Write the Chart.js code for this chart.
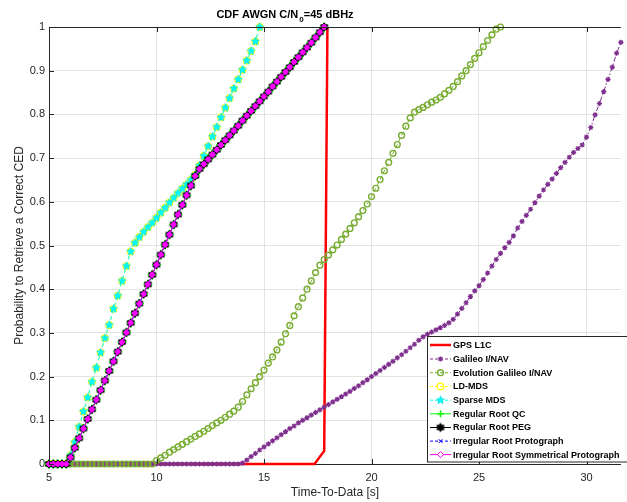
<!DOCTYPE html>
<html><head><meta charset="utf-8">
<script src="https://cdn.jsdelivr.net/npm/chart.js@4/dist/chart.umd.min.js"></script>
<style>html,body{margin:0;padding:0;background:#fff}#wrap{position:relative;width:627px;height:502px}</style>
</head><body><div id="wrap"><canvas id="c" width="627" height="502"></canvas></div>
<script>
// ---------- DATA ----------
const titleMain = 'CDF AWGN C/N';
const titleSub = '0';
const titleTail = '=45 dBHz';
const xAxisTitle = 'Time-To-Data [s]';
const yAxisTitle = 'Probability to Retrieve a Correct CED';
const xTicks = [5, 10, 15, 20, 25, 30];
const yTicks = [0, 0.1, 0.2, 0.3, 0.4, 0.5, 0.6, 0.7, 0.8, 0.9, 1];
const yTickLabels = ['0', '0.1', '0.2', '0.3', '0.4', '0.5', '0.6', '0.7', '0.8', '0.9', '1'];
const seriesNames = ['GPS L1C', 'Galileo I/NAV', 'Evolution Galileo I/NAV', 'LD-MDS', 'Sparse MDS',
  'Regular Root QC', 'Regular Root PEG', 'Irregular Root Protograph', 'Irregular Root Symmetrical Protograph'];

// common time grid [s]
const timeGrid = [5.0,5.2,5.4,5.6,5.8,6.0,6.2,6.4,6.6,6.8,7.0,7.2,7.4,7.6,7.8,8.0,8.2,8.4,8.6,8.8,
  9.0,9.2,9.4,9.6,9.8,10.0,10.2,10.4,10.6,10.8,11.0,11.2,11.4,11.6,11.8,12.0,12.2,12.4,12.6,12.8,
  13.0,13.2,13.4,13.6,13.8,14.0,14.2,14.4,14.6,14.8,15.0,15.2,15.4,15.6,15.8,16.0,16.2,16.4,16.6,16.8,
  17.0,17.2,17.4,17.6,17.8,18.0,18.2,18.4,18.6,18.8,19.0,19.2,19.4,19.6,19.8,20.0,20.2,20.4,20.6,20.8,
  21.0,21.2,21.4,21.6,21.8,22.0,22.2,22.4,22.6,22.8,23.0,23.2,23.4,23.6,23.8,24.0,24.2,24.4,24.6,24.8,
  25.0,25.2,25.4,25.6,25.8,26.0,26.2,26.4,26.6,26.8,27.0,27.2,27.4,27.6,27.8,28.0,28.2,28.4,28.6,28.8,
  29.0,29.2,29.4,29.6,29.8,30.0,30.2,30.4,30.6,30.8,31.0,31.2,31.4,31.6];

// GPS L1C (own time points)
const gpsTime = [5.0, 17.35, 17.8, 17.95];
const gpsProb = [0, 0, 0.03, 1.0];

// Galileo I/NAV (t = 5.0 ... 31.6)
const galileoProb = [0,0,0,0,0,0,0,0,0,0,0,0,0,0,0,0,0,0,0,0,0,0,0,0,0,0,0,0,0,0,0,0,0,0,0,0,0,0,0,0,0,0,0,0,0,
  0.002,0.009,0.017,0.024,0.032,0.039,
  0.046,0.053,0.06,0.067,0.074,
  0.081,0.087,0.094,0.1,0.106,
  0.112,0.118,0.124,0.13,0.136,
  0.142,0.148,0.154,0.16,0.166,
  0.173,0.179,0.186,0.193,0.2,
  0.207,0.214,0.221,0.228,0.235,
  0.243,0.25,0.258,0.266,0.274,
  0.283,0.291,0.297,0.302,0.307,
  0.312,0.317,0.323,0.331,0.343,
  0.356,0.369,0.383,0.396,0.408,
  0.422,0.437,0.453,0.468,0.482,
  0.495,0.507,0.522,0.54,0.555,
  0.569,0.583,0.598,0.613,0.627,
  0.64,0.652,0.665,0.678,0.69,
  0.702,0.713,0.722,0.73,0.748,
  0.77,0.799,0.825,0.852,0.88,
  0.908,0.94,0.965];

// Evolution Galileo I/NAV (t = 5.0 ... 26.0)
const evolutionProb = [0,0,0,0,0,0,0,0,0,0,0,0,0,0,0,0,0,0,0,0,0,0,0,0,0,
  0.008,0.014,0.02,0.027,0.033,0.039,0.045,0.051,0.057,0.063,
  0.069,0.075,0.081,0.088,0.094,0.1,0.107,0.114,0.121,0.13,
  0.143,0.158,0.172,0.186,0.2,0.215,0.231,0.245,0.261,0.279,
  0.298,0.317,0.339,0.36,0.38,0.4,0.419,0.438,0.455,0.468,
  0.478,0.49,0.501,0.514,0.526,0.539,0.552,0.566,0.58,0.595,
  0.612,0.631,0.651,0.671,0.69,0.711,0.731,0.752,0.773,0.792,
  0.805,0.811,0.816,0.822,0.828,0.833,0.839,0.847,0.855,0.864,
  0.875,0.888,0.9,0.914,0.928,0.941,0.955,0.969,0.982,0.995,1.0];

// LD-MDS and Sparse MDS (t = 5.0 ... 14.8)
const ldMdsProb = [0,0,0,0,0,0.02,0.05,0.085,0.12,0.152,0.188,0.22,0.255,0.288,0.318,
  0.355,0.385,0.419,0.453,0.486,0.506,0.519,0.531,0.542,0.552,0.563,0.575,0.586,0.598,0.609,
  0.62,0.63,0.64,0.65,0.662,0.683,0.705,0.727,0.749,0.771,0.793,0.815,0.837,0.859,0.88,
  0.902,0.923,0.945,0.967,1.0];
const sparseMdsProb = [0,0,0,0,0,0.02,0.05,0.085,0.12,0.152,0.188,0.22,0.255,0.288,0.318,
  0.355,0.385,0.419,0.453,0.486,0.506,0.519,0.531,0.542,0.552,0.563,0.575,0.586,0.598,0.609,
  0.62,0.63,0.64,0.65,0.662,0.683,0.705,0.727,0.749,0.771,0.793,0.815,0.837,0.859,0.88,
  0.902,0.923,0.945,0.967,1.0];

// Regular / Irregular root codes (t = 5.0 ... 17.8)
const rootQcProb = [0,0,0,0,0,0.015,0.037,0.059,0.081,0.103,0.125,0.147,0.169,0.191,0.213,
  0.235,0.257,0.279,0.301,0.323,0.345,0.367,0.389,0.411,0.433,0.456,0.479,0.502,0.525,0.548,
  0.571,0.593,0.615,0.637,0.659,0.675,0.686,0.697,0.708,0.719,0.73,0.741,0.752,0.763,0.774,
  0.786,0.797,0.808,0.819,0.83,0.841,0.852,0.864,0.875,0.886,0.897,0.908,0.92,0.931,0.942,
  0.953,0.964,0.976,0.988,1.0];
const rootPegProb = rootQcProb.slice();
const irregProtoProb = rootQcProb.slice();
const irregSymProb = rootQcProb.slice();

// ---------- STYLE HELPERS ----------
const FONT = '"Liberation Sans", Arial, Helvetica, sans-serif';
const AX = '#262626';

function starCanvas(points, rOut, rIn, fill, stroke) {
  const s = Math.ceil(rOut * 2 + 3);
  const c = document.createElement('canvas');
  c.width = s; c.height = s;
  const g = c.getContext('2d');
  g.translate(s / 2, s / 2);
  g.beginPath();
  for (let i = 0; i < points * 2; i++) {
    const r = i % 2 === 0 ? rOut : rIn;
    const a = -Math.PI / 2 + i * Math.PI / points;
    const px = r * Math.cos(a), py = r * Math.sin(a);
    if (i === 0) g.moveTo(px, py); else g.lineTo(px, py);
  }
  g.closePath();
  g.fillStyle = fill; g.fill();
  g.strokeStyle = stroke; g.lineWidth = 1; g.stroke();
  return c;
}
const pentagram = starCanvas(5, 4.0, 1.8, '#00FFFF', '#00E5E5');
const hexagram = starCanvas(6, 4.2, 2.6, '#000000', '#000000');

function mk(arr, times) {
  return arr.map((v, i) => ({ x: (times || timeGrid)[i], y: v }));
}

const datasetStyles = [
  { color: '#FF0000', width: 2.5, dash: [], ps: 'circle', pr: 0 },
  { color: '#7E2F8E', width: 1, dash: [5, 2, 1.5, 2], ps: 'star', pr: 2.6, pbw: 1.2, pfill: '#7E2F8E' },
  { color: '#77AC30', width: 1, dash: [4, 3], ps: 'circle', pr: 2.9, pbw: 1.4, pfill: 'rgba(255,255,255,0)' },
  { color: '#FFFF00', width: 1, dash: [4, 3], ps: 'circle', pr: 3.3, pbw: 1.2, pfill: 'rgba(255,255,255,0)' },
  { color: '#00FFFF', width: 1, dash: [4, 3], ps: pentagram, pr: 4, pbw: 1, pfill: '#00FFFF' },
  { color: '#00FF00', width: 1, dash: [], ps: 'cross', pr: 4.6, pbw: 1.5, pfill: '#00FF00' },
  { color: '#000000', width: 1, dash: [], ps: hexagram, pr: 4.2, pbw: 1, pfill: '#000000' },
  { color: '#0000FF', width: 1, dash: [4, 3], ps: 'crossRot', pr: 2.6, pbw: 1, pfill: '#0000FF' },
  { color: '#FF00FF', width: 1, dash: [], ps: 'rectRot', pr: 3, pbw: 1, pfill: '#FF00FF' }
];
const seriesData = [
  mk(gpsProb, gpsTime), mk(galileoProb), mk(evolutionProb), mk(ldMdsProb), mk(sparseMdsProb),
  mk(rootQcProb), mk(rootPegProb), mk(irregProtoProb), mk(irregSymProb)
];

const datasets = seriesNames.map((name, i) => {
  const s = datasetStyles[i];
  return {
    label: name,
    data: seriesData[i],
    borderColor: s.color,
    borderWidth: s.width,
    borderDash: s.dash,
    backgroundColor: s.pfill || s.color,
    pointStyle: s.ps,
    pointRadius: s.pr,
    pointHoverRadius: s.pr,
    pointBorderColor: s.color,
    pointBackgroundColor: s.pfill || s.color,
    pointBorderWidth: s.pbw || 1,
    tension: 0,
    fill: false,
    clip: false,
    order: seriesNames.length - i
  };
});

// ---------- PLUGINS ----------
function drawLegendMarker(ctx, s, x, y) {
  if (!s.pr) return;
  ctx.save();
  ctx.setLineDash([]);
  const r = s.pr;
  ctx.strokeStyle = s.color;
  ctx.fillStyle = s.pfill || s.color;
  ctx.lineWidth = s.pbw || 1;
  if (typeof s.ps !== 'string') {
    ctx.drawImage(s.ps, x - s.ps.width / 2, y - s.ps.height / 2);
  } else if (s.ps === 'circle') {
    ctx.beginPath(); ctx.arc(x, y, r, 0, Math.PI * 2); ctx.fill(); ctx.stroke();
  } else if (s.ps === 'cross') {
    ctx.beginPath(); ctx.moveTo(x - r, y); ctx.lineTo(x + r, y); ctx.moveTo(x, y - r); ctx.lineTo(x, y + r); ctx.stroke();
  } else if (s.ps === 'crossRot') {
    const d = r * 0.75;
    ctx.beginPath(); ctx.moveTo(x - d, y - d); ctx.lineTo(x + d, y + d); ctx.moveTo(x + d, y - d); ctx.lineTo(x - d, y + d); ctx.stroke();
  } else if (s.ps === 'star') {
    const d = r * 0.75;
    ctx.beginPath(); ctx.moveTo(x - r, y); ctx.lineTo(x + r, y); ctx.moveTo(x, y - r); ctx.lineTo(x, y + r);
    ctx.moveTo(x - d, y - d); ctx.lineTo(x + d, y + d); ctx.moveTo(x + d, y - d); ctx.lineTo(x - d, y + d); ctx.stroke();
  } else if (s.ps === 'rectRot') {
    ctx.beginPath(); ctx.moveTo(x, y - r); ctx.lineTo(x + r, y); ctx.lineTo(x, y + r); ctx.lineTo(x - r, y); ctx.closePath();
    ctx.fillStyle = '#fff'; ctx.fill(); ctx.stroke();
  }
  ctx.restore();
}

const framePlugin = {
  id: 'frame',
  afterDatasetsDraw(chart) {
    const { ctx, chartArea: a, scales: { x, y } } = chart;
    ctx.save();
    ctx.strokeStyle = AX; ctx.lineWidth = 1; ctx.setLineDash([]);
    ctx.beginPath();
    ctx.moveTo(a.left, a.top + 0.5); ctx.lineTo(a.right, a.top + 0.5);
    xTicks.forEach(v => {
      const px = Math.round(x.getPixelForValue(v)) + 0.5;
      ctx.moveTo(px, a.bottom); ctx.lineTo(px, a.bottom - 5);
      ctx.moveTo(px, a.top); ctx.lineTo(px, a.top + 5);
    });
    yTicks.forEach(v => {
      const py = Math.round(y.getPixelForValue(v)) + 0.5;
      ctx.moveTo(a.left, py); ctx.lineTo(a.left + 5, py);
    });
    ctx.stroke();
    ctx.restore();
  },
  afterDraw(chart) {
    const { ctx } = chart;
    ctx.save();
    // title with subscript
    const big = 'bold 11px ' + FONT, small = 'bold 8px ' + FONT;
    ctx.font = big; const w1 = ctx.measureText(titleMain).width; const w3 = ctx.measureText(titleTail).width;
    ctx.font = small; const w2 = ctx.measureText(titleSub).width;
    const total = w1 + w2 + 1 + w3;
    let tx = 285 - total / 2;
    ctx.fillStyle = '#000'; ctx.textBaseline = 'alphabetic'; ctx.textAlign = 'left';
    ctx.font = big; ctx.fillText(titleMain, tx, 18); tx += w1 + 1;
    ctx.font = small; ctx.fillText(titleSub, tx, 22); tx += w2;
    ctx.font = big; ctx.fillText(titleTail, tx, 18);

    // legend box
    const bx = 427.5, by = 336.5, bw = 210, bh = 125.5;
    ctx.fillStyle = '#fff'; ctx.fillRect(bx, by, bw, bh);
    ctx.strokeStyle = AX; ctx.lineWidth = 1; ctx.strokeRect(bx, by, bw, bh);
    const rowY = [345, 359, 372.7, 386.5, 400.2, 413.8, 427.5, 441.1, 454.6];
    ctx.font = 'bold 9px ' + FONT; ctx.textBaseline = 'middle';
    seriesNames.forEach((name, i) => {
      const s = datasetStyles[i];
      const yy = rowY[i];
      ctx.save();
      ctx.strokeStyle = s.color; ctx.lineWidth = s.width;
      ctx.setLineDash(s.dash.length ? [3, 2] : []);
      ctx.beginPath(); ctx.moveTo(430, yy); ctx.lineTo(451, yy); ctx.stroke();
      ctx.restore();
      drawLegendMarker(ctx, Object.assign({}, s, { pr: s.pr ? Math.min(s.pr, 3.5) : 0 }), 440.5, yy);
      ctx.fillStyle = '#000';
      ctx.fillText(name, 453, yy + 0.5);
    });
    ctx.restore();
  }
};

// ---------- CHART ----------
new Chart(document.getElementById('c'), {
  type: 'line',
  data: { datasets },
  options: {
    responsive: false,
    animation: false,
    devicePixelRatio: 1,
    events: [],
    parsing: true,
    layout: { padding: { top: 27, right: 0, left: 0, bottom: 0 } },
    plugins: { legend: { display: false }, tooltip: { enabled: false }, title: { display: false } },
    scales: {
      x: {
        type: 'linear', min: 5, max: 31.6,
        afterBuildTicks(scale) { scale.ticks = xTicks.map(v => ({ value: v })); },
        afterFit(scale) { scale.height = 38; },
        ticks: { color: AX, font: { family: FONT, size: 11 }, padding: 7, maxRotation: 0, autoSkip: false,
          callback: v => String(v) },
        grid: { color: '#e3e3e3', lineWidth: 1, drawTicks: false },
        border: { color: AX, width: 1 },
        title: { display: true, text: xAxisTitle, color: AX, font: { family: FONT, size: 12 }, padding: { top: 0, bottom: 2 } }
      },
      y: {
        type: 'linear', min: 0, max: 1,
        afterBuildTicks(scale) { scale.ticks = yTicks.map(v => ({ value: v })); },
        afterFit(scale) { scale.width = 49; },
        ticks: { color: AX, font: { family: FONT, size: 11 }, padding: 4, autoSkip: false,
          callback: (v, i) => yTickLabels[i] },
        grid: { color: '#e3e3e3', lineWidth: 1, drawTicks: false },
        border: { color: AX, width: 1 },
        title: { display: true, text: yAxisTitle, color: AX, font: { family: FONT, size: 12 }, padding: { top: 12, bottom: 0 } }
      }
    }
  },
  plugins: [framePlugin]
});
</script>
</body></html>
